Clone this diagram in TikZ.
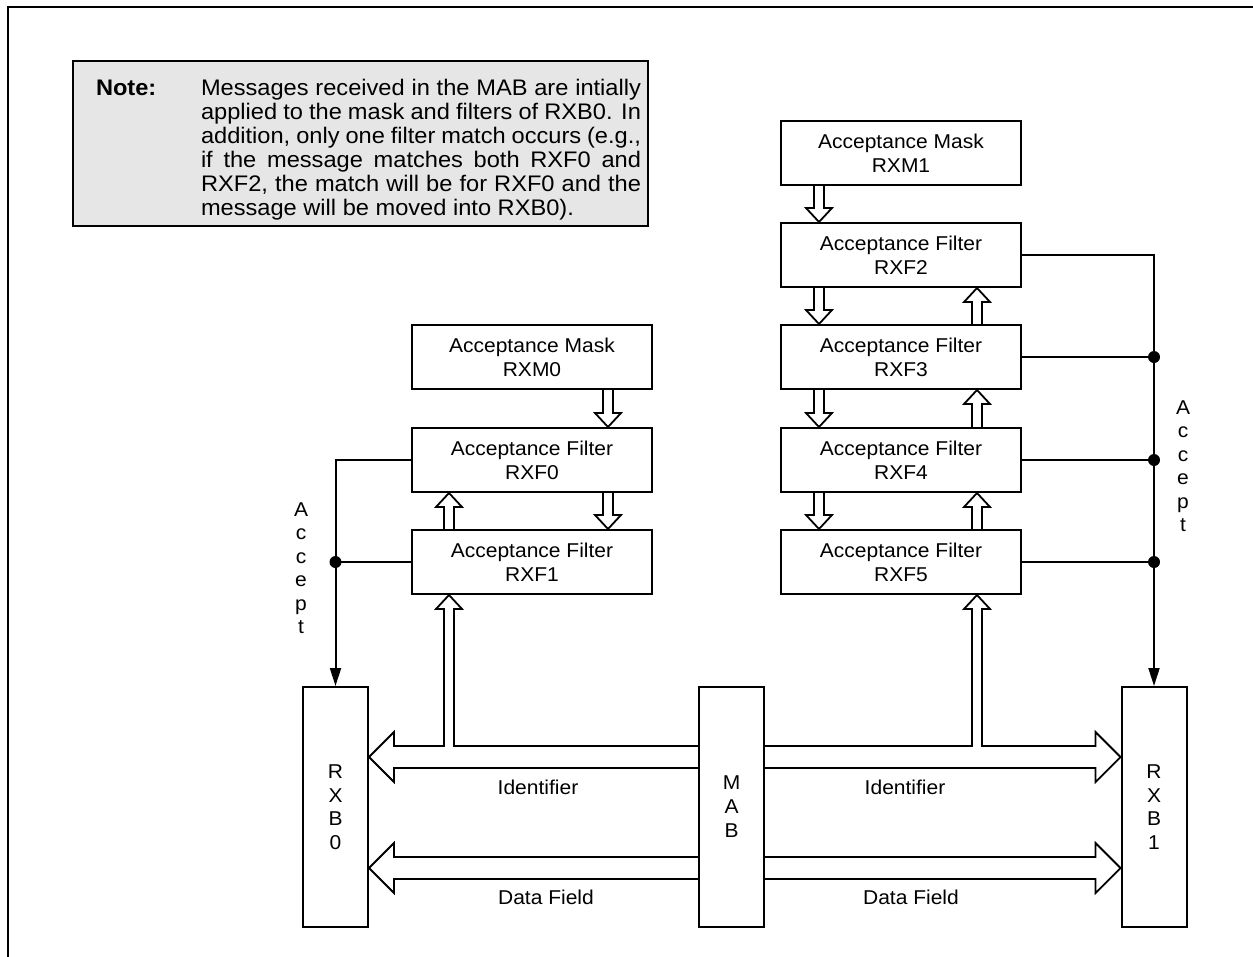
\documentclass[tikz,border=0pt]{standalone}
\usepackage{fontspec}
\setmainfont{Liberation Sans}[FakeStretch=1.05]
\usetikzlibrary{arrows.meta,calc}
\definecolor{notegray}{RGB}{230,230,230}
\newcommand\holdown[2]{\draw[hol] let \p1=#1, \p2=#2 in
  ({\x1-5pt},\y1) -- ({\x1-5pt},{\y2+14pt}) -- ({\x1-13pt},{\y2+14pt}) -- (\x1,\y2)
  -- ({\x1+13pt},{\y2+14pt}) -- ({\x1+5pt},{\y2+14pt}) -- ({\x1+5pt},\y1);}
\newcommand\holup[2]{\draw[hol] let \p1=#1, \p2=#2 in
  ({\x1-5pt},\y1) -- ({\x1-5pt},{\y2-14pt}) -- ({\x1-13pt},{\y2-14pt}) -- (\x1,\y2)
  -- ({\x1+13pt},{\y2-14pt}) -- ({\x1+5pt},{\y2-14pt}) -- ({\x1+5pt},\y1);}
\begin{document}
\begin{tikzpicture}[x=1pt,y=-1pt,line width=2pt,
  blk/.style={draw,line width=2pt,minimum width=240pt,minimum height=64pt,inner sep=0pt,
    align=center,font=\fontsize{20}{24}\selectfont},
  vbx/.style={draw,line width=2pt,minimum width=65pt,minimum height=240pt,inner sep=0pt,
    align=center,font=\fontsize{20}{23.5}\selectfont},
  hol/.style={line width=1.8pt,line join=miter},
  lbl/.style={font=\fontsize{20}{24}\selectfont,inner sep=0pt},
  vtxt/.style={font=\fontsize{20}{23.5}\selectfont,inner sep=0pt,align=center},
  ntext/.style={font=\fontsize{22.5}{24}\selectfont,inner sep=0pt,anchor=base west},
  jdot/.style={circle,fill,inner sep=0pt,minimum size=12pt},
  acc/.style={-{Triangle[length=18pt,width=11pt]}}]
\useasboundingbox (0,0) rectangle (1253,956);
% outer frame
\draw[line width=2pt] (1265,7) -- (8,7) -- (8,970);
% note
\node[draw,line width=2pt,fill=notegray,minimum width=575pt,minimum height=165pt,
  anchor=north west,inner sep=0pt] (note) at (72,60) {};
\node[ntext,font=\fontsize{22.5}{24}\selectfont\bfseries] (notelbl) at (95,95) {Note:};
\node[ntext] (n1) at (200,95) {\makebox[440pt][s]{Messages received in the MAB are intially}};
\node[ntext] (n2) at (200,119) {\makebox[440pt][s]{applied to the mask and filters of RXB0. In}};
\node[ntext] (n3) at (200,143) {\makebox[440pt][s]{addition, only one filter match occurs (e.g.,}};
\node[ntext] (n4) at (200,167) {\makebox[440pt][s]{if the message matches both RXF0 and}};
\node[ntext] (n5) at (200,191) {\makebox[440pt][s]{RXF2, the match will be for RXF0 and the}};
\node[ntext] (n6) at (200,215) {message will be moved into RXB0).};
% right column
\node[blk] (rxm1) at (901,153) {Acceptance Mask\\RXM1};
\node[blk] (rxf2) at (901,255) {Acceptance Filter\\RXF2};
\node[blk] (rxf3) at (901,357) {Acceptance Filter\\RXF3};
\node[blk] (rxf4) at (901,460) {Acceptance Filter\\RXF4};
\node[blk] (rxf5) at (901,562) {Acceptance Filter\\RXF5};
% left column
\node[blk] (rxm0) at (532,357) {Acceptance Mask\\RXM0};
\node[blk] (rxf0) at (532,460) {Acceptance Filter\\RXF0};
\node[blk] (rxf1) at (532,562) {Acceptance Filter\\RXF1};
% buffers
\node[vbx] (rxb0) at (335.5,807) {R\\X\\B\\0};
\node[vbx,font=\fontsize{20}{24}\selectfont] (mab) at (731.5,807) {M\\A\\B};
\node[vbx] (rxb1) at (1154,807) {R\\X\\B\\1};
% hollow arrows between filters
\holdown{($(rxm1.south west)+(39,0)$)}{(rxf2.north)}
\holdown{($(rxf2.south west)+(39,0)$)}{(rxf3.north)}
\holdown{($(rxf3.south west)+(39,0)$)}{(rxf4.north)}
\holdown{($(rxf4.south west)+(39,0)$)}{(rxf5.north)}
\holup{($(rxf3.north west)+(197,0)$)}{(rxf2.south)}
\holup{($(rxf4.north west)+(197,0)$)}{(rxf3.south)}
\holup{($(rxf5.north west)+(197,0)$)}{(rxf4.south)}
\holdown{($(rxm0.south west)+(197,0)$)}{(rxf0.north)}
\holdown{($(rxf0.south west)+(197,0)$)}{(rxf1.north)}
\holup{($(rxf1.north west)+(38,0)$)}{(rxf0.south)}
% accept lines
\draw[acc] (rxf0.west) -| (rxb0.north);
\draw (rxf1.west) -- (rxf1.west -| rxb0.north) node[jdot] (d1) {};
\draw[acc] (rxf2.east) -| (rxb1.north);
\draw (rxf3.east) -- (rxf3.east -| rxb1.north) node[jdot] (d3) {};
\draw (rxf4.east) -- (rxf4.east -| rxb1.north) node[jdot] (d4) {};
\draw (rxf5.east) -- (rxf5.east -| rxb1.north) node[jdot] (d5) {};
\node[vtxt] (accl) at (301,568) {A\\c\\c\\e\\p\\t};
\node[vtxt] (accr) at (1183,466) {A\\c\\c\\e\\p\\t};
% buses
\coordinate (idt) at (0,746); \coordinate (idc) at (0,757); \coordinate (idb) at (0,768);
\coordinate (dft) at (0,857); \coordinate (dfc) at (0,868); \coordinate (dfb) at (0,879);
\coordinate (uL) at ($(rxf1.south west)+(38,0)$);
\coordinate (uR) at ($(rxf5.south west)+(197,0)$);
\draw[hol] (mab.west |- idt) -- ($(uL |- idt)+(5,0)$) -- ($(uL)+(5,14)$) -- ($(uL)+(13,14)$)
  -- (uL) -- ($(uL)+(-13,14)$) -- ($(uL)+(-5,14)$) -- ($(uL |- idt)+(-5,0)$)
  -- ($(rxb0.east |- idt)+(25,0)$) -- ($(rxb0.east |- idt)+(25,-14)$) -- (rxb0.east |- idc)
  -- ($(rxb0.east |- idb)+(25,14)$) -- ($(rxb0.east |- idb)+(25,0)$) -- (mab.west |- idb);
\draw[hol] (mab.east |- idt) -- ($(uR |- idt)+(-5,0)$) -- ($(uR)+(-5,14)$) -- ($(uR)+(-13,14)$)
  -- (uR) -- ($(uR)+(13,14)$) -- ($(uR)+(5,14)$) -- ($(uR |- idt)+(5,0)$)
  -- ($(rxb1.west |- idt)+(-25,0)$) -- ($(rxb1.west |- idt)+(-25,-14)$) -- (rxb1.west |- idc)
  -- ($(rxb1.west |- idb)+(-25,14)$) -- ($(rxb1.west |- idb)+(-25,0)$) -- (mab.east |- idb);
\draw[hol] (mab.west |- dft) -- ($(rxb0.east |- dft)+(25,0)$) -- ($(rxb0.east |- dft)+(25,-14)$)
  -- (rxb0.east |- dfc) -- ($(rxb0.east |- dfb)+(25,14)$) -- ($(rxb0.east |- dfb)+(25,0)$)
  -- (mab.west |- dfb);
\draw[hol] (mab.east |- dft) -- ($(rxb1.west |- dft)+(-25,0)$) -- ($(rxb1.west |- dft)+(-25,-14)$)
  -- (rxb1.west |- dfc) -- ($(rxb1.west |- dfb)+(-25,14)$) -- ($(rxb1.west |- dfb)+(-25,0)$)
  -- (mab.east |- dfb);
\node[lbl] (idl) at (538,787) {Identifier};
\node[lbl] (idr) at (905,787) {Identifier};
\node[lbl] (dfl) at (546,897) {Data Field};
\node[lbl] (dfr) at (911,897) {Data Field};
\end{tikzpicture}
\end{document}
